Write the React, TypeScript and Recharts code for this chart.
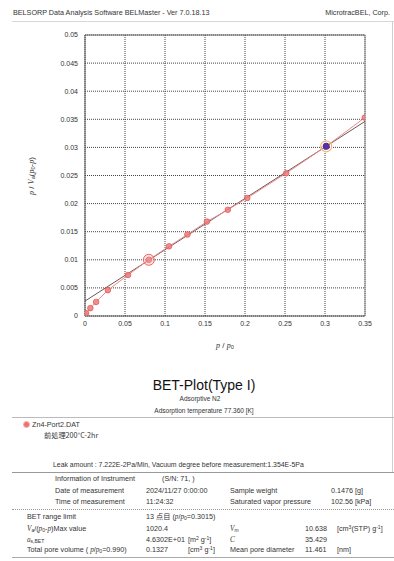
import React from 'react';
import {
  ComposedChart,
  Scatter,
  XAxis,
  YAxis,
  CartesianGrid,
  ReferenceLine,
} from 'recharts';

// BET transform p/Va(p0-p) against relative pressure p/p0
const relPressure = [0.0002, 0.0013, 0.0067, 0.0139, 0.0286, 0.0538, 0.0798, 0.105, 0.128, 0.1524, 0.1785, 0.2028, 0.2515, 0.3015, 0.3498];
const betValue = [0.0001, 0.0005, 0.0014, 0.0025, 0.0046, 0.0073, 0.01, 0.0124, 0.0145, 0.0168, 0.0189, 0.021, 0.0254, 0.0302, 0.0353];

const xTicks = [0, 0.05, 0.1, 0.15, 0.2, 0.25, 0.3, 0.35];
const yTicks = [0, 0.005, 0.01, 0.015, 0.02, 0.025, 0.03, 0.035, 0.04, 0.045, 0.05];

// BET results
const vm = 10.638;
const cConst = 35.429;
const rangeLow = 0.0798;
const rangeHigh = 0.3015;

const FONT = '"Liberation Sans", Arial, sans-serif';
const INK = '#333';

const points = relPressure.map((x, i) => ({ x, y: betValue[i] }));
const lowPoint = points.filter((p) => p.x === rangeLow);
const highPoint = points.filter((p) => p.x === rangeHigh);

const intercept = 1 / (vm * cConst);
const slope = (cConst - 1) / (vm * cConst);
const fitEnd = 0.35;

const dot = (props: any) => (
  <circle cx={props.cx} cy={props.cy} r={2.8} fill="#f07c7c" fillOpacity={0.85} stroke="#e05a5a" strokeWidth={0.8} />
);
const lowDot = (props: any) => (
  <circle cx={props.cx} cy={props.cy} r={5.5} fill="#f5a0a0" fillOpacity={0.35} stroke="#e86a6a" strokeWidth={1} />
);
const highDot = (props: any) => (
  <g>
    <circle cx={props.cx} cy={props.cy} r={5.5} fill="none" stroke="#f0b878" strokeWidth={1.2} />
    <circle cx={props.cx} cy={props.cy} r={3.5} fill="#5a2fa0" />
  </g>
);

function T({ x, y, size = 7.2, align = 'left', children, style }: any) {
  const shift = align === 'right' ? '-100%' : align === 'center' ? '-50%' : '0';
  return (
    <div
      style={{
        position: 'absolute',
        left: x,
        top: y,
        transform: `translate(${shift}, -50%)`,
        fontSize: size,
        lineHeight: 1,
        whiteSpace: 'nowrap',
        color: INK,
        fontFamily: FONT,
        ...style,
      }}
    >
      {children}
    </div>
  );
}

const sub = (s: string) => <sub style={{ fontSize: '0.7em', verticalAlign: '-0.25em' }}>{s}</sub>;
const sup = (s: string) => <sup style={{ fontSize: '0.7em', verticalAlign: '0.4em' }}>{s}</sup>;
const it = (s: string) => <i style={{ fontFamily: '"Liberation Serif", serif' }}>{s}</i>;

function HLine({ y, x1 = 12, x2 = 394, color = '#aaa', dotted = false }: any) {
  return (
    <div
      style={{
        position: 'absolute',
        left: x1,
        top: y,
        width: x2 - x1,
        borderTop: `1px ${dotted ? 'dotted' : 'solid'} ${color}`,
      }}
    />
  );
}

export default function App() {
  return (
    <div style={{ position: 'absolute', left: 0, top: 0, width: 394, height: 561, background: '#fff', overflow: 'hidden' }}>
      <T x={13} y={13}>BELSORP Data Analysis Software BELMaster - Ver 7.0.18.13</T>
      <T x={390} y={13} align="right">MicrotracBEL, Corp.</T>
      <HLine y={21} color="#d8d8d8" />
      <div style={{ position: 'absolute', left: 392, top: 21, height: 451, borderLeft: '1px solid #d0d0d0' }} />

      <div style={{ position: 'absolute', left: 0, top: 0 }}>
        <ComposedChart width={394} height={340} margin={{ top: 35, right: 29, bottom: 0, left: 0 }}>
          <CartesianGrid stroke="#444" strokeDasharray="1 1" />
          <XAxis
            dataKey="x"
            type="number"
            domain={[0, 0.35]}
            ticks={xTicks}
            height={24}
            tickSize={0}
            tickMargin={5}
            stroke="#555"
            tick={{ fontSize: 7, fill: INK, fontFamily: FONT }}
            allowDataOverflow
          />
          <YAxis
            dataKey="y"
            type="number"
            domain={[0, 0.05]}
            ticks={yTicks}
            width={85}
            tickSize={0}
            tickMargin={7}
            stroke="#555"
            tick={{ fontSize: 7, fill: INK, fontFamily: FONT }}
            allowDataOverflow
          />
          <ReferenceLine y={0.05} stroke="#666" />
          <ReferenceLine x={0.35} stroke="#888" />
          <Scatter
            data={points}
            shape={dot}
            line={{ stroke: '#ee8a8a', strokeWidth: 1 }}
            isAnimationActive={false}
          />
          <ReferenceLine
            segment={[
              { x: 0, y: intercept },
              { x: fitEnd, y: intercept + slope * fitEnd },
            ]}
            stroke="#6e5656"
            strokeWidth={1}
          />
          <Scatter data={lowPoint} shape={lowDot} isAnimationActive={false} />
          <Scatter data={highPoint} shape={highDot} isAnimationActive={false} />
        </ComposedChart>
      </div>

      <T x={32} y={176} size={8} align="center" style={{ transform: 'translate(-50%, -50%) rotate(-90deg)' }}>
        {it('p')} / {it('V')}{sub('a')}({it('p')}{sub('0')}-{it('p')})
      </T>
      <T x={225} y={346} size={8} align="center">
        {it('p')} / {it('p')}{sub('0')}
      </T>

      <T x={204} y={385} size={14} align="center" style={{ color: '#111' }}>BET-Plot(Type I)</T>
      <T x={200} y={399} size={6.5} align="center">Adsorptive N2</T>
      <T x={204} y={411} size={6.5} align="center">Adsorption temperature 77.360 [K]</T>
      <HLine y={417} color="#bbb" />

      <div
        style={{
          position: 'absolute',
          left: 23,
          top: 421,
          width: 5,
          height: 5,
          borderRadius: '50%',
          background: '#f07070',
          border: '1px solid #f3b0b0',
        }}
      />
      <T x={32} y={425}>Zn4-Port2.DAT</T>
      <T x={44} y={436} style={{ fontFamily: '"Noto Sans CJK JP", sans-serif' }}>前処理200°C-2hr</T>

      <T x={53} y={465} size={6.9}>Leak amount : 7.222E-2Pa/Min, Vacuum degree before measurement:1.354E-5Pa</T>
      <HLine y={472} color="#999" />

      <T x={55} y={479}>Information of Instrument</T>
      <T x={162} y={479}>(S/N: 71, )</T>
      <T x={55} y={491}>Date of measurement</T>
      <T x={146} y={491}>2024/11/27 0:00:00</T>
      <T x={230} y={491}>Sample weight</T>
      <T x={331} y={491}>0.1476 [g]</T>
      <T x={55} y={502}>Time of measurement</T>
      <T x={146} y={502}>11:24:32</T>
      <T x={230} y={502}>Saturated vapor pressure</T>
      <T x={331} y={502}>102.56 [kPa]</T>
      <HLine y={509} color="#999" dotted />

      <T x={27} y={517}>BET range limit</T>
      <T x={146} y={517}>
        13 <span style={{ fontFamily: '"Noto Sans CJK JP", sans-serif' }}>点目</span> ({it('p')}/{it('p')}{sub('0')}=0.3015)
      </T>
      <T x={27} y={529}>
        {it('V')}{sub('a')}/({it('p')}{sub('0')}-{it('p')})Max value
      </T>
      <T x={146} y={529}>1020.4</T>
      <T x={230} y={529}>{it('V')}{sub('m')}</T>
      <T x={305} y={529}>10.638</T>
      <T x={337} y={529}>[cm{sup('3')}(STP) g{sup('-1')}]</T>
      <T x={27} y={540}>{it('a')}{sub('s,BET')}</T>
      <T x={146} y={540}>4.6302E+01</T>
      <T x={188} y={540}>[m{sup('2')} g{sup('-1')}]</T>
      <T x={230} y={540}>{it('C')}</T>
      <T x={305} y={540}>35.429</T>
      <T x={27} y={550}>
        Total pore volume ( {it('p')}/{it('p')}{sub('0')}=0.990)
      </T>
      <T x={146} y={550}>0.1327</T>
      <T x={188} y={550}>[cm{sup('3')} g{sup('-1')}]</T>
      <T x={230} y={550}>Mean pore diameter</T>
      <T x={305} y={550}>11.461</T>
      <T x={337} y={550}>[nm]</T>
      <HLine y={557} color="#aaa" />
    </div>
  );
}
